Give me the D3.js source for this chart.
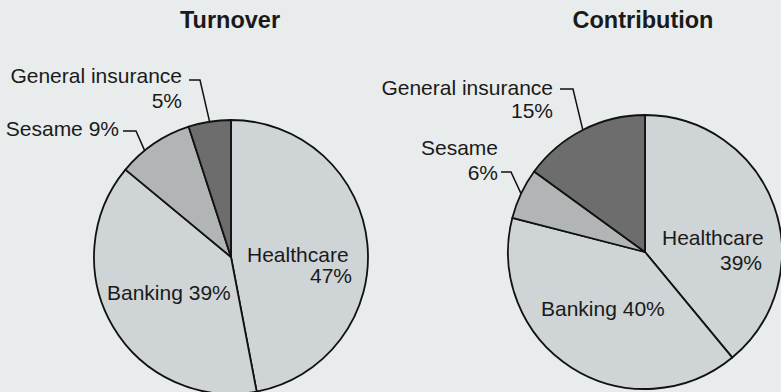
<!DOCTYPE html>
<html>
<head>
<meta charset="utf-8">
<script src="https://cdn.jsdelivr.net/npm/d3@7"></script>
<style>
  html, body { margin: 0; padding: 0; background: #e9ecec; }
  svg { display: block; }
  text { font-family: "Liberation Sans", Arial, Helvetica, sans-serif; fill: #1a1a1a; }
</style>
</head>
<body>
<svg id="chart" width="781" height="392"></svg>
<script>
// Business segments, clockwise from 12 o'clock
const segments = ["Healthcare", "Banking", "Sesame", "General insurance"];
const turnover = [47, 39, 9, 5];
const contribution = [39, 40, 6, 15];
const titles = ["Turnover", "Contribution"];

const fills = ["#cfd4d6", "#cfd4d6", "#b2b5b6", "#6d6d6d"];

const svg = d3.select("#chart");
const W = 781, H = 392;
const labelSize = 21;

svg.append("rect").attr("width", W).attr("height", H).attr("fill", "#e9ecec");

const pie = d3.pie().sort(null).value(d => d.value);

// Label layout per chart: text positions, anchors and optional leader elbow
const layouts = [
  {
    cx: 231, cy: 257, r: 137, titleX: 230,
    labels: {
      "Healthcare": { anchor: "start", x: 247, y: 262, pct: { anchor: "end", x: 352, y: 283 } },
      "Banking": { anchor: "start", x: 107, inline: true, y: 300 },
      "Sesame": { anchor: "end", x: 119, inline: true, y: 136, leader: { x0: 123, x1: 136, y: 131, t: 0.35 } },
      "General insurance": { anchor: "end", x: 182, y: 83, pct: { anchor: "end", x: 182, y: 108 }, leader: { x0: 189, x1: 200, y: 80, t: 0.5 } }
    }
  },
  {
    cx: 645, cy: 252, r: 137, titleX: 643,
    labels: {
      "Healthcare": { anchor: "start", x: 662, y: 245, pct: { anchor: "end", x: 762, y: 270 } },
      "Banking": { anchor: "start", x: 541, inline: true, y: 316 },
      "Sesame": { anchor: "end", x: 498, y: 155, pct: { anchor: "end", x: 498, y: 180 }, leader: { x0: 501, x1: 511, y: 172, t: 0.5 } },
      "General insurance": { anchor: "end", x: 553, y: 95, pct: { anchor: "end", x: 553, y: 118 }, leader: { x0: 560, x1: 573, y: 89, t: 0.5 } }
    }
  }
];

[turnover, contribution].forEach((vals, ci) => {
  const L = layouts[ci];
  const data = segments.map((s, i) => ({ name: s, value: vals[i], fill: fills[i] }));
  const arcs = pie(data);
  const arc = d3.arc().innerRadius(0).outerRadius(L.r);

  const g = svg.append("g").attr("transform", `translate(${L.cx},${L.cy})`);

  g.selectAll("path.slice")
    .data(arcs)
    .join("path")
    .attr("class", "slice")
    .attr("d", arc)
    .attr("fill", d => d.data.fill)
    .attr("stroke", "#111")
    .attr("stroke-width", 1.8)
    .attr("stroke-linejoin", "round");

  // Title
  svg.append("text")
    .attr("x", L.titleX).attr("y", 28)
    .attr("text-anchor", "middle")
    .attr("font-size", 23.5)
    .attr("font-weight", "bold")
    .text(titles[ci]);

  // Labels
  arcs.forEach(a => {
    const cfg = L.labels[a.data.name];
    const pctText = a.data.value + "%";
    if (cfg.inline) {
      svg.append("text")
        .attr("x", cfg.x).attr("y", cfg.y)
        .attr("text-anchor", cfg.anchor)
        .attr("font-size", labelSize)
        .text(a.data.name + " " + pctText);
    } else {
      svg.append("text")
        .attr("x", cfg.x).attr("y", cfg.y)
        .attr("text-anchor", cfg.anchor)
        .attr("font-size", labelSize)
        .text(a.data.name);
      svg.append("text")
        .attr("x", cfg.pct.x).attr("y", cfg.pct.y)
        .attr("text-anchor", cfg.pct.anchor)
        .attr("font-size", labelSize)
        .text(pctText);
    }
    if (cfg.leader) {
      // leader meets the rim at a point inside the slice's arc
      const ld = cfg.leader;
      const ang = a.startAngle + (a.endAngle - a.startAngle) * ld.t;
      const ex = L.cx + L.r * Math.sin(ang);
      const ey = L.cy - L.r * Math.cos(ang);
      svg.append("path")
        .attr("d", d3.line()([[ld.x0, ld.y], [ld.x1, ld.y], [ex, ey]]))
        .attr("fill", "none")
        .attr("stroke", "#111")
        .attr("stroke-width", 1.5);
    }
  });
});
</script>
</body>
</html>
